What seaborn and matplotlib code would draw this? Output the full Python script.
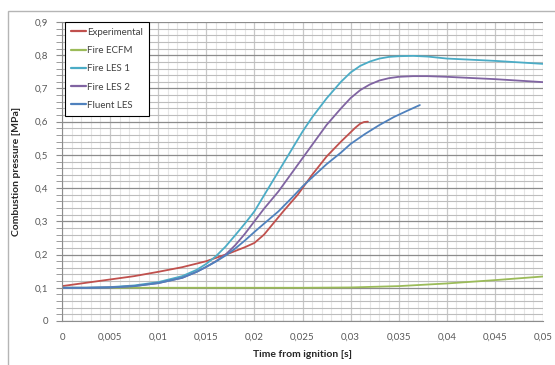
import matplotlib
matplotlib.use("Agg")
import matplotlib.pyplot as plt
from matplotlib.patches import Rectangle
from matplotlib.ticker import MultipleLocator, FuncFormatter
import seaborn as sns
import pandas as pd

# Datos (tiempo [s], presión [MPa])
t_exp = [0, 0.0025, 0.005, 0.0075, 0.01, 0.0125, 0.015, 0.0175, 0.019, 0.02, 0.021,
         0.022, 0.023, 0.0245, 0.026, 0.0275, 0.029, 0.03, 0.0305, 0.031, 0.0314, 0.0318]
p_exp = [0.105, 0.115, 0.125, 0.135, 0.148, 0.162, 0.18, 0.205, 0.222, 0.235, 0.26,
         0.295, 0.33, 0.38, 0.44, 0.495, 0.54, 0.568, 0.582, 0.594, 0.599, 0.6]

t_ecfm = [0, 0.005, 0.01, 0.015, 0.02, 0.025, 0.03, 0.035, 0.04, 0.045, 0.05]
p_ecfm = [0.1, 0.1, 0.1, 0.1, 0.1, 0.1, 0.101, 0.105, 0.113, 0.123, 0.134]

t_les1 = [0, 0.0025, 0.005, 0.0075, 0.01, 0.0125, 0.014, 0.015, 0.016, 0.017, 0.018,
          0.019, 0.02, 0.021, 0.0225, 0.024, 0.025, 0.026, 0.0275, 0.029, 0.03, 0.031,
          0.032, 0.033, 0.034, 0.035, 0.0365, 0.038, 0.04, 0.045, 0.05]
p_les1 = [0.1, 0.1, 0.102, 0.107, 0.117, 0.135, 0.154, 0.172, 0.195, 0.224, 0.258,
          0.293, 0.33, 0.378, 0.45, 0.522, 0.57, 0.613, 0.67, 0.72, 0.748, 0.768,
          0.781, 0.79, 0.795, 0.797, 0.798, 0.796, 0.79, 0.783, 0.774]

t_les2 = [0, 0.0025, 0.005, 0.0075, 0.01, 0.0125, 0.014, 0.015, 0.016, 0.017, 0.018,
          0.019, 0.02, 0.021, 0.0225, 0.024, 0.025, 0.026, 0.0275, 0.029, 0.03, 0.031,
          0.032, 0.033, 0.034, 0.035, 0.0365, 0.038, 0.04, 0.045, 0.05]
p_les2 = [0.1, 0.1, 0.101, 0.105, 0.114, 0.13, 0.148, 0.163, 0.18, 0.2, 0.228,
          0.262, 0.30, 0.338, 0.39, 0.45, 0.49, 0.53, 0.59, 0.64, 0.671, 0.695,
          0.712, 0.724, 0.731, 0.735, 0.737, 0.737, 0.735, 0.728, 0.719]

t_fluent = [0, 0.0025, 0.005, 0.0075, 0.01, 0.0125, 0.014, 0.015, 0.016, 0.017, 0.018,
            0.019, 0.02, 0.021, 0.0225, 0.024, 0.025, 0.026, 0.0275, 0.029, 0.03,
            0.0315, 0.033, 0.0345, 0.0359, 0.0372]
p_fluent = [0.1, 0.1, 0.101, 0.105, 0.114, 0.13, 0.148, 0.163, 0.179, 0.197, 0.218,
            0.242, 0.268, 0.293, 0.33, 0.374, 0.405, 0.432, 0.472, 0.507, 0.533,
            0.563, 0.59, 0.614, 0.633, 0.65]

series = ["Experimental", "Fire ECFM", "Fire LES 1", "Fire LES 2", "Fluent LES"]
colores = ["#C0504D", "#9BBB59", "#4BACC6", "#8064A2", "#4F81BD"]

# Tabla larga para seaborn
frames = []
for nombre, t, p in zip(series, [t_exp, t_ecfm, t_les1, t_les2, t_fluent],
                        [p_exp, p_ecfm, p_les1, p_les2, p_fluent]):
    frames.append(pd.DataFrame({"t": t, "p": p, "serie": nombre}))
df = pd.concat(frames, ignore_index=True)

sns.set_style("white")
plt.rcParams["font.family"] = ["Lato", "DejaVu Sans"]

fig = plt.figure(figsize=(5.55, 3.65), dpi=100)
ax = fig.add_axes([62 / 555, 1 - 321 / 365, 481 / 555, 299 / 365])

sns.lineplot(data=df, x="t", y="p", hue="serie", hue_order=series,
             palette=dict(zip(series, colores)), linewidth=1.3, ax=ax,
             sort=False, estimator=None)

ax.set_xlim(0, 0.05)
ax.set_ylim(0, 0.9)
ax.xaxis.set_major_locator(MultipleLocator(0.005))
ax.xaxis.set_minor_locator(MultipleLocator(0.001))
ax.yaxis.set_major_locator(MultipleLocator(0.1))
ax.yaxis.set_minor_locator(MultipleLocator(0.02))

coma = FuncFormatter(lambda v, pos: ("%g" % round(v, 4)).replace(".", ","))
ax.xaxis.set_major_formatter(coma)
ax.yaxis.set_major_formatter(coma)

# Rejilla estilo Excel
ax.grid(which="major", axis="y", color="#8C8C8C", linewidth=0.9)
ax.grid(which="minor", axis="y", color="#BDBDBD", linewidth=0.8)
ax.grid(which="major", axis="x", color="#C8C8C8", linewidth=0.9)
ax.grid(which="minor", axis="x", color="#E6E6E6", linewidth=0.8)
ax.set_axisbelow(True)

for s in ["top", "right"]:
    ax.spines[s].set_visible(False)
ax.spines["left"].set_color("#8C8C8C")
ax.spines["bottom"].set_color("#8C8C8C")

ax.tick_params(axis="y", which="both", left=True, length=4, color="#8C8C8C",
               labelsize=7, labelcolor="#595959", pad=6)
ax.tick_params(axis="x", which="both", bottom=False, labelsize=7,
               labelcolor="#595959", pad=5)

ax.set_xlabel("Time from ignition [s]", fontsize=7.5, fontweight="bold", labelpad=6)
ax.set_ylabel("Combustion pressure [MPa]", fontsize=7.5, fontweight="bold", labelpad=10)

ax.legend(loc="upper left", bbox_to_anchor=(0.006, 1.0), frameon=True, fancybox=False,
          edgecolor="black", framealpha=1, fontsize=7, handlelength=1.6,
          handletextpad=0.1, labelspacing=0.95, borderaxespad=0, borderpad=0.6,
          labelcolor="#404040")
leg = ax.get_legend()
leg.get_frame().set_linewidth(0.8)
for h in leg.get_lines():
    h.set_linewidth(1.6)

# Marco exterior del gráfico
fig.patches.append(Rectangle((8 / 555, -0.2), 1.2, 1.2 - 11 / 365,
                             transform=fig.transFigure, fill=False,
                             edgecolor="#B5B5B5", linewidth=1))

fig.savefig("out.png", dpi=100)
